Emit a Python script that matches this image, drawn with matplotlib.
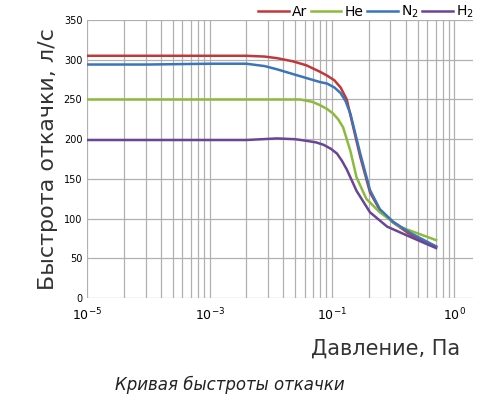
import numpy as np
import matplotlib.pyplot as plt

# x is position in decades along the axis (0 -> "10^-5" label, 3 -> "10^0" label)
x_ar = [0, 0.5, 1.0, 1.30, 1.45, 1.55, 1.68, 1.79, 1.90, 1.96, 2.02, 2.07, 2.12, 2.17, 2.23, 2.31, 2.39, 2.50, 2.64, 2.85]
y_ar = [305, 305, 305, 305, 304, 302, 298, 293, 285, 280, 274, 265, 250, 217, 178, 133, 111, 95, 80, 65]
x_n2 = [0, 0.5, 1.0, 1.30, 1.45, 1.55, 1.68, 1.79, 1.90, 1.96, 2.02, 2.07, 2.11, 2.15, 2.23, 2.31, 2.39, 2.50, 2.64, 2.85]
y_n2 = [294, 294, 295, 295, 292, 288, 282, 277, 272, 270, 265, 258, 248, 232, 182, 136, 112, 96, 82, 65]
x_he = [0, 0.5, 1.0, 1.5, 1.74, 1.84, 1.90, 1.96, 2.01, 2.05, 2.09, 2.15, 2.20, 2.28, 2.39, 2.55, 2.85]
y_he = [250, 250, 250, 250, 250, 247, 243, 238, 232, 225, 215, 185, 152, 125, 108, 90, 73]
x_h2 = [0, 0.5, 1.0, 1.30, 1.55, 1.70, 1.79, 1.87, 1.93, 1.99, 2.04, 2.08, 2.12, 2.20, 2.31, 2.45, 2.64, 2.85]
y_h2 = [199, 199, 199, 199, 201, 200, 198, 196, 193, 188, 182, 173, 162, 135, 108, 90, 77, 63]
tick_labels = ['10$^{-5}$', '10$^{-3}$', '10$^{-1}$', '10$^{0}$']

fig = plt.figure(figsize=(4.9, 4.17), dpi=100)
ax = fig.add_axes([0.178, 0.285, 0.787, 0.667])

# grid: decade lines plus minor log lines
for d in range(4):
    for k in range(1, 10):
        xv = d + np.log10(k)
        if xv <= 3.15:
            ax.axvline(xv, color='#b0b0b0', lw=0.9, zorder=0)
for yv in range(0, 351, 50):
    ax.axhline(yv, color='#b0b0b0', lw=0.9, zorder=0)

ax.plot(x_ar, y_ar, color='#c0383a', lw=1.8, label='Ar')
ax.plot(x_he, y_he, color='#8cba3e', lw=1.8, label='He')
ax.plot(x_n2, y_n2, color='#3b74b8', lw=1.8, label='N$_2$')
ax.plot(x_h2, y_h2, color='#6a4596', lw=1.8, label='H$_2$')

ax.set_xlim(0, 3.15)
ax.set_ylim(0, 350)
ax.set_xticks([0, 1, 2, 3])
ax.set_xticklabels(tick_labels, fontsize=9)
ax.set_yticks(range(0, 351, 50))
ax.tick_params(axis='y', labelsize=7, length=0)
ax.tick_params(axis='x', length=0, pad=6)
for s in ax.spines.values():
    s.set_visible(False)

ax.set_ylabel('Быстрота откачки, л/с', fontsize=16, color='#333333')
fig.text(0.94, 0.15, 'Давление, Па', fontsize=15, ha='right', color='#333333')
fig.text(0.47, 0.065, 'Кривая быстроты откачки', fontsize=12, ha='center',
         style='italic', color='#222222')
ax.legend(loc='lower right', bbox_to_anchor=(1.02, 0.975), ncol=4, frameon=False,
          fontsize=10, handlelength=2.2, columnspacing=0.3, handletextpad=0.2,
          borderpad=0)

fig.savefig('out.png', dpi=100)
